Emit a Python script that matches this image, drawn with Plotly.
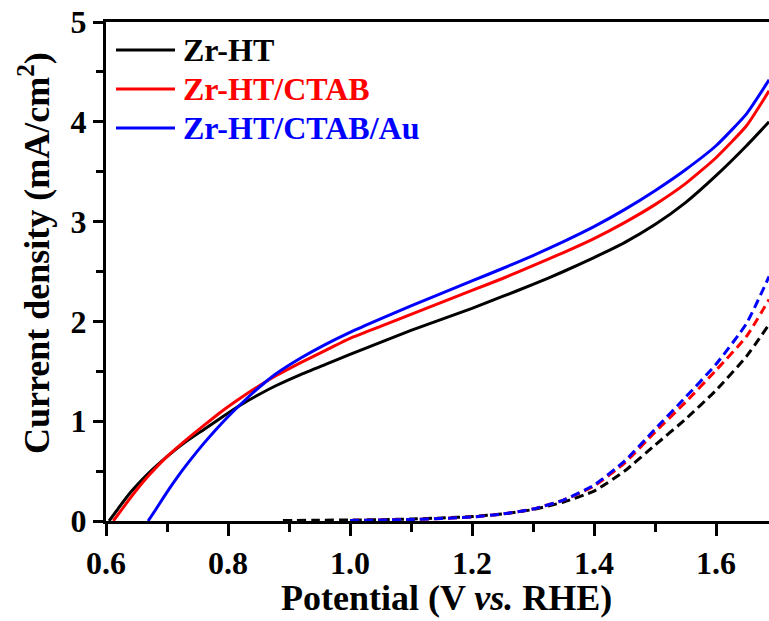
import plotly.graph_objects as go

# ---- data ----
names = ["Zr-HT", "Zr-HT/CTAB", "Zr-HT/CTAB/Au"]
colors = ["#000000", "#ff0000", "#0000ff"]

x_black = [0.605, 0.62, 0.64, 0.67, 0.70, 0.73, 0.76, 0.79, 0.82, 0.85, 0.88, 0.92, 0.96, 1.00,
           1.05, 1.10, 1.15, 1.20, 1.25, 1.30, 1.35, 1.40, 1.45, 1.50, 1.55, 1.60, 1.65, 1.687]
y_black = [0.0, 0.125, 0.285, 0.48, 0.645, 0.79, 0.915, 1.04, 1.16, 1.265, 1.36, 1.47, 1.57, 1.67,
           1.79, 1.91, 2.02, 2.13, 2.25, 2.37, 2.50, 2.64, 2.79, 2.97, 3.19, 3.46, 3.76, 4.0]

x_red = [0.612, 0.63, 0.65, 0.67, 0.70, 0.73, 0.76, 0.79, 0.82, 0.85, 0.88, 0.92, 0.96, 1.00,
         1.05, 1.10, 1.15, 1.20, 1.25, 1.30, 1.35, 1.40, 1.45, 1.50, 1.55, 1.60, 1.65, 1.687]
y_red = [0.0, 0.15, 0.31, 0.455, 0.645, 0.805, 0.955, 1.10, 1.23, 1.35, 1.46, 1.59, 1.71, 1.83,
         1.95, 2.07, 2.19, 2.31, 2.43, 2.56, 2.69, 2.83, 2.99, 3.17, 3.38, 3.64, 3.96, 4.31]

x_blue = [0.669, 0.68, 0.70, 0.72, 0.74, 0.76, 0.78, 0.80, 0.82, 0.84, 0.86, 0.88, 0.92, 0.96,
          1.00, 1.05, 1.10, 1.15, 1.20, 1.25, 1.30, 1.35, 1.40, 1.45, 1.50, 1.55, 1.60, 1.65, 1.687]
y_blue = [0.0, 0.10, 0.29, 0.465, 0.625, 0.775, 0.915, 1.045, 1.165, 1.28, 1.385, 1.48, 1.635, 1.77,
          1.89, 2.025, 2.155, 2.28, 2.405, 2.53, 2.66, 2.80, 2.95, 3.12, 3.31, 3.52, 3.76, 4.08, 4.42]

# dark (dashed) curves
xd_black = [0.89, 0.95, 1.00, 1.05, 1.10, 1.15, 1.20, 1.25, 1.30, 1.35, 1.40, 1.45, 1.50, 1.55,
            1.60, 1.65, 1.687]
yd_black = [0.005, 0.008, 0.01, 0.013, 0.02, 0.03, 0.045, 0.07, 0.115, 0.19, 0.30, 0.50, 0.76,
            1.02, 1.31, 1.65, 1.97]
xd_red = [1.00, 1.10, 1.20, 1.25, 1.30, 1.35, 1.40, 1.45, 1.50, 1.55, 1.60, 1.65, 1.687]
yd_red = [0.005, 0.015, 0.04, 0.07, 0.12, 0.21, 0.35, 0.58, 0.89, 1.19, 1.51, 1.85, 2.22]
xd_blue = [1.00, 1.10, 1.20, 1.25, 1.30, 1.35, 1.40, 1.45, 1.50, 1.55, 1.60, 1.65, 1.687]
yd_blue = [0.005, 0.015, 0.04, 0.07, 0.12, 0.21, 0.36, 0.60, 0.92, 1.24, 1.57, 1.98, 2.45]

x_ticks = [0.6, 0.8, 1.0, 1.2, 1.4, 1.6]
y_ticks = [0, 1, 2, 3, 4, 5]
x_title = "Potential (V <i>vs.</i> RHE)"
y_title = "Current density (mA/cm<sup>2</sup>)"

FONT = "Liberation Serif"

fig = go.Figure()
dark = [(xd_black, yd_black), (xd_red, yd_red), (xd_blue, yd_blue)]
light = [(x_black, y_black), (x_red, y_red), (x_blue, y_blue)]
for (xs, ys), c in zip(dark, colors):
    fig.add_trace(go.Scatter(x=xs, y=ys, mode="lines", showlegend=False,
                             line=dict(color=c, width=3, dash="9px,5px", shape="spline", smoothing=0.5)))
for (xs, ys), c, n in zip(light, colors, names):
    fig.add_trace(go.Scatter(x=xs, y=ys, mode="lines", name=n, showlegend=False,
                             line=dict(color=c, width=3, shape="spline", smoothing=0.5)))

# layout geometry
W, H = 769, 621
L, R, T, B = 106, 0, 22, 100
pw, ph = W - L - R, H - T - B
def px(xp):
    return (xp - L) / pw
def py(yp):
    return (H - B - yp) / ph

# manual legend (paper coords)
for i, (n, c) in enumerate(zip(names, colors)):
    yrow = [50, 89, 128][i]
    fig.add_shape(type="line", xref="paper", yref="paper", x0=px(116), x1=px(175),
                  y0=py(yrow), y1=py(yrow), line=dict(color=c, width=3))
    fig.add_annotation(xref="paper", yref="paper", x=px(181), y=py(yrow), text=n,
                       showarrow=False, xanchor="left", yanchor="middle",
                       font=dict(family=FONT, size=32, color=c, weight="bold"))

# axis titles as annotations for exact placement
fig.add_annotation(xref="paper", yref="paper", x=px(447), y=py(598), text=x_title,
                   showarrow=False, xanchor="center", yanchor="middle",
                   font=dict(family=FONT, size=36, color="black", weight="bold"))
fig.add_annotation(xref="paper", yref="paper", x=px(34), y=py(253), text=y_title,
                   showarrow=False, xanchor="center", yanchor="middle", textangle=-90,
                   font=dict(family=FONT, size=36, color="black", weight="bold"))

axis_common = dict(showline=True, linecolor="black", linewidth=3, ticks="outside",
                   tickwidth=3, tickcolor="black", showgrid=False, zeroline=False,
                   tickfont=dict(family=FONT, size=32, color="black", weight="bold"))
fig.update_xaxes(range=[0.6, 0.6 + pw / 610.0], tickvals=x_ticks, ticktext=[f"{v:.1f}" for v in x_ticks],
                 ticklen=12, mirror=True,
                 minor=dict(tickvals=[0.7, 0.9, 1.1, 1.3, 1.5], ticklen=8, tickwidth=3, tickcolor="black", ticks="outside"),
                 **axis_common)
fig.update_yaxes(range=[0, 5], tickvals=y_ticks, ticklen=10,
                 minor=dict(tickvals=[0.5, 1.5, 2.5, 3.5, 4.5], ticklen=7, tickwidth=3, tickcolor="black", ticks="outside"),
                 **axis_common)

fig.update_layout(width=W, height=H, margin=dict(l=L, r=R, t=T, b=B, autoexpand=False),
                  plot_bgcolor="white", paper_bgcolor="white", showlegend=False)

fig.write_html("out.html")
